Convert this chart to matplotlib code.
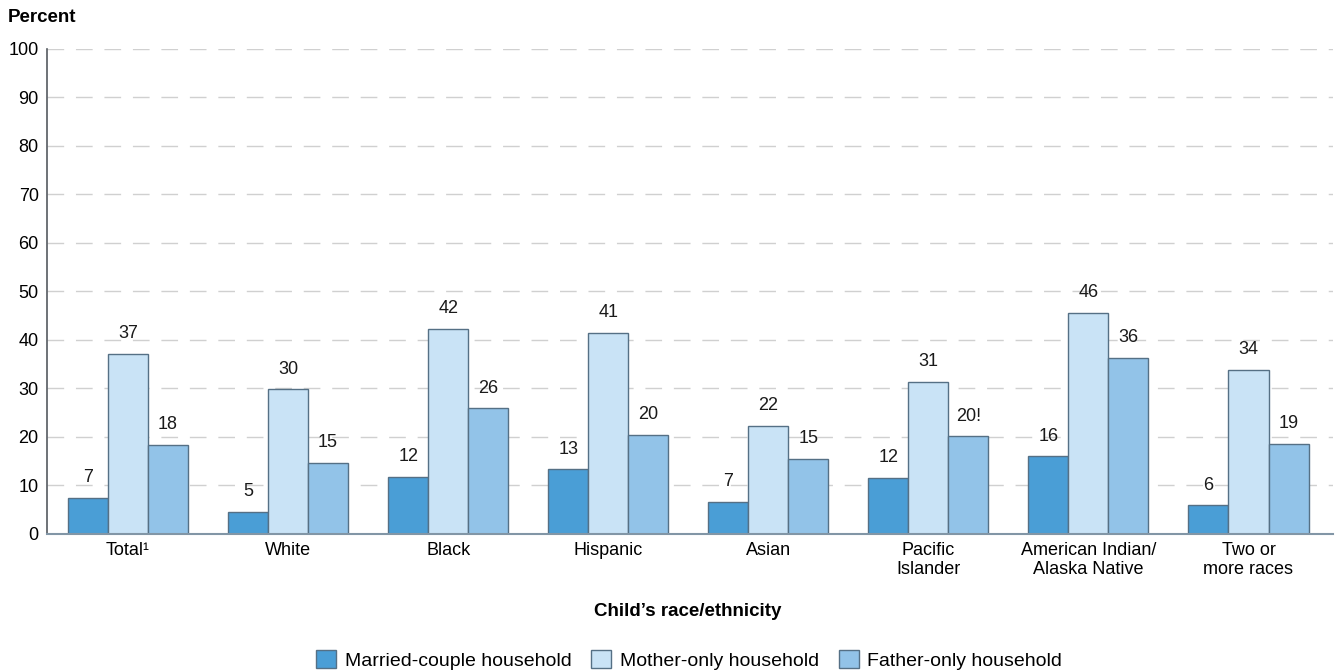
import numpy as np
import matplotlib.pyplot as plt
from matplotlib.patches import Patch

plt.rcParams['font.family'] = ['Liberation Sans', 'DejaVu Sans']

# Percentage of children in each household type, by race/ethnicity
groups = ["Total\u00b9", "White", "Black", "Hispanic", "Asian",
          "Pacific\nIslander", "American Indian/\nAlaska Native", "Two or\nmore races"]
married = [7.4, 4.6, 11.8, 13.3, 6.6, 11.5, 16.0, 5.9]
mother = [37.1, 29.8, 42.2, 41.4, 22.3, 31.3, 45.6, 33.8]
father = [18.4, 14.6, 25.9, 20.4, 15.4, 20.1, 36.3, 18.6]
father_flags = ["", "", "", "", "", "!", "", ""]

series_names = ["Married-couple household", "Mother-only household", "Father-only household"]
colors = ["#4a9ed6", "#c9e3f6", "#92c3e8"]
edge = "#557085"

fig = plt.figure(figsize=(13.36, 6.70), dpi=100)
ax = fig.add_axes([0.0352, 0.203, 0.9628, 0.724])

x = np.arange(len(groups))
w = 0.25
all_series = [married, mother, father]
for k, vals in enumerate(all_series):
    bars = ax.bar(x + (k - 1) * w, vals, width=w, color=colors[k],
                  edgecolor=edge, linewidth=1.0, zorder=3)
    for i, (b, v) in enumerate(zip(bars, vals)):
        txt = f"{v:.0f}"
        if k == 2:
            txt += father_flags[i]
        ax.annotate(txt, (b.get_x() + b.get_width() / 2, v),
                    xytext=(0, 8.5), textcoords="offset points",
                    ha="center", va="bottom", fontsize=13, color="#1a1a1a")

ax.set_ylim(0, 100)
ax.set_xlim(-0.506, 7.53)
ax.set_yticks(range(0, 101, 10))
ax.set_xticks(x)
ax.set_xticklabels(groups, fontsize=13, linespacing=1.1)
ax.tick_params(axis='y', labelsize=13, length=0, pad=6)
ax.tick_params(axis='x', length=0, pad=6)
ax.yaxis.grid(True, color="#d0d0d0", linestyle=(0, (12, 8.5)), linewidth=1.0, zorder=0)
ax.set_axisbelow(True)

for s in ["top", "right"]:
    ax.spines[s].set_visible(False)
ax.spines["left"].set_color("#555a60")
ax.spines["left"].set_linewidth(1.2)
ax.spines["bottom"].set_color("#8296a6")
ax.spines["bottom"].set_linewidth(1.5)
ax.spines["bottom"].set_zorder(4)

fig.text(0.006, 0.974, "Percent", fontsize=13.5, fontweight="bold", va="center", ha="left")
fig.text(0.515, 0.088, "Child\u2019s race/ethnicity", fontsize=13.5, fontweight="bold",
         ha="center", va="center")

handles = [Patch(facecolor=colors[k], edgecolor=edge, linewidth=1.0) for k in range(3)]
fig.legend(handles, series_names, loc="center", bbox_to_anchor=(0.516, 0.015),
           ncol=3, frameon=False, fontsize=14, handlelength=1.03, handleheight=1.03,
           handletextpad=0.45, columnspacing=1.0)

plt.savefig("out.png", dpi=100)
